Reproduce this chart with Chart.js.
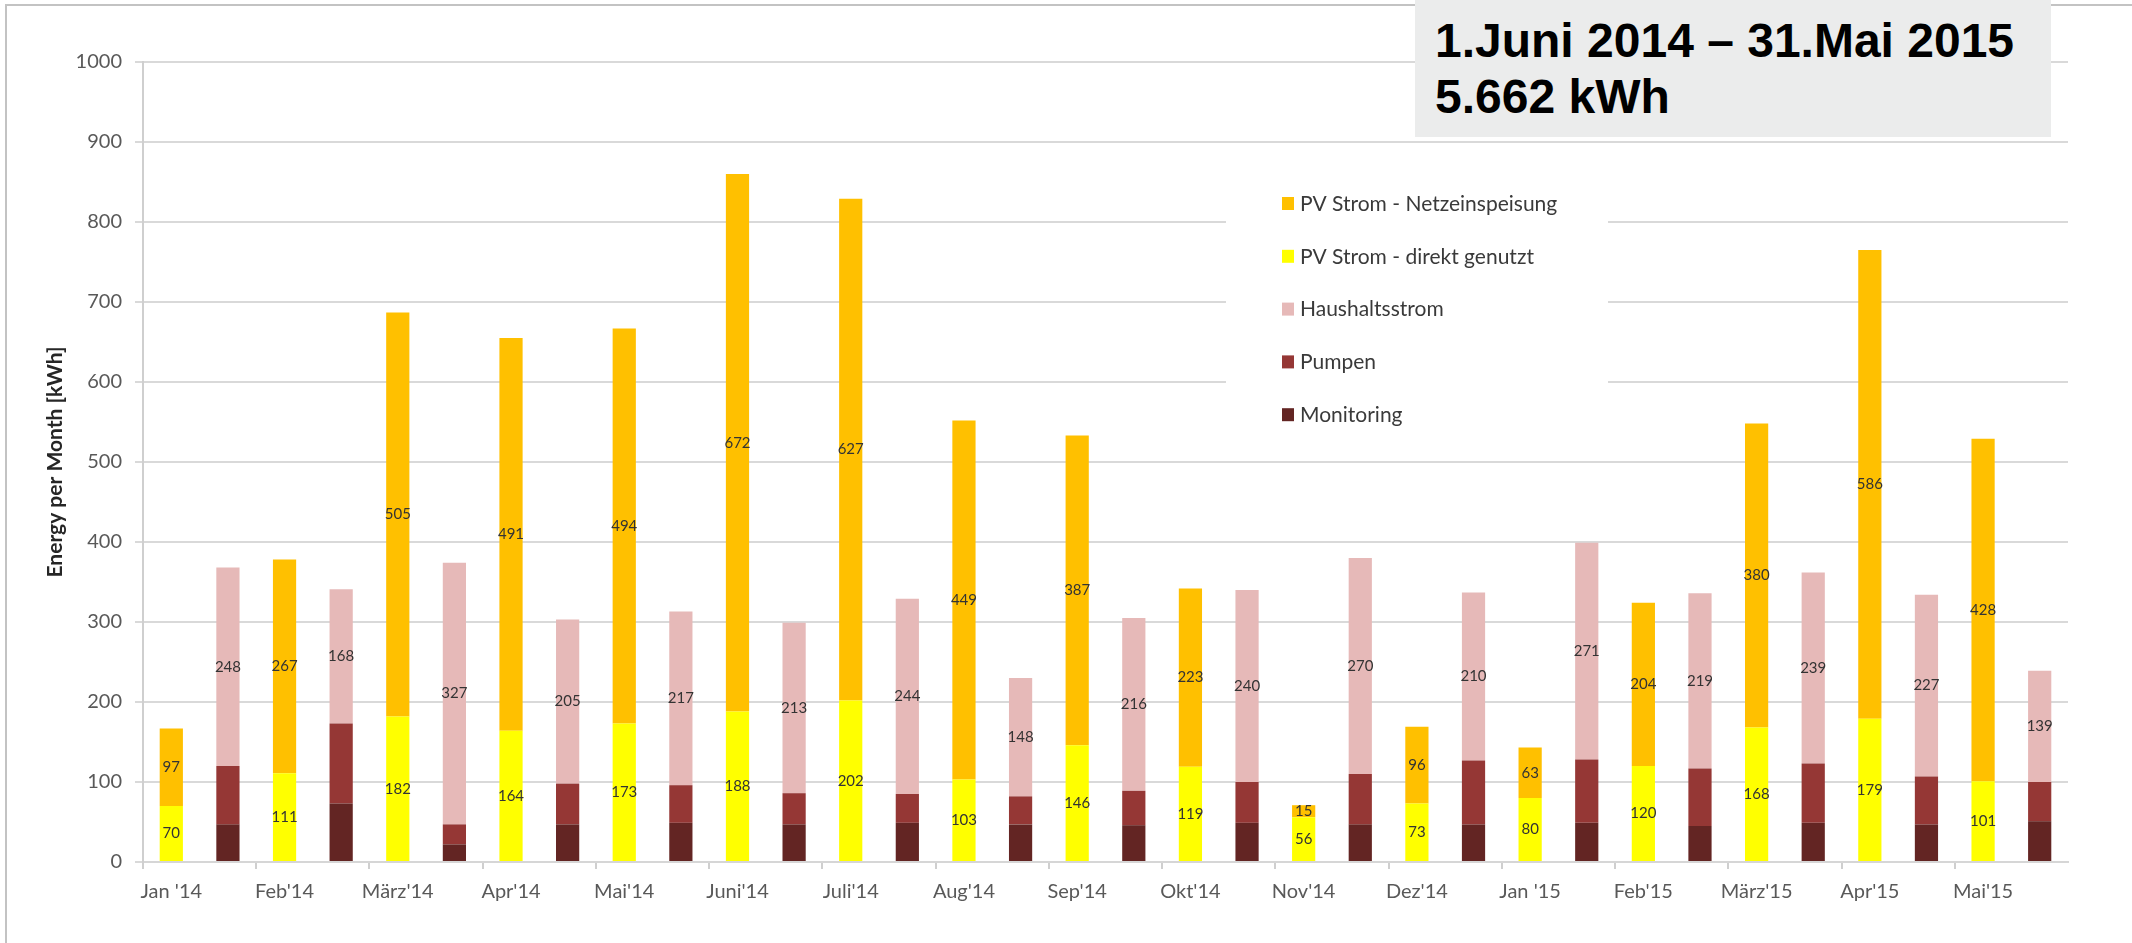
<!DOCTYPE html>
<html>
<head>
<meta charset="utf-8">
<script src="https://cdn.jsdelivr.net/npm/chart.js@4.4.1/dist/chart.umd.min.js"></script>
<style>
  body { margin: 0; background: #fff; }
  #wrap { position: relative; width: 2132px; height: 943px; overflow: hidden; }
  #frame { position: absolute; left: 5px; top: 4px; right: -10px; bottom: -10px;
           border-left: 2px solid #c3c3c3; border-top: 2px solid #c3c3c3; }
  #chartBox { position: absolute; left: 0; top: 0; width: 2132px; height: 943px; }
  #titleBox { position: absolute; left: 1415px; top: 0; width: 636px; height: 137px;
              background: #ebecec; font-family: "Liberation Sans", Arial, sans-serif;
              font-weight: bold; font-size: 48px; line-height: 56px; color: #000; }
  #titleBox div { position: absolute; left: 20px; white-space: nowrap; }
</style>
</head>
<body>
<div id="wrap">
  <div id="frame"></div>
  <div id="chartBox"><canvas id="energyChart"></canvas></div>
  <div id="titleBox">
    <div style="top: 13px;">1.Juni 2014 – 31.Mai 2015</div>
    <div style="top: 69px;">5.662 kWh</div>
  </div>
</div>
<script>
// month labels (one PV bar + one consumption bar per month)
const months = ["Jan '14", "Feb'14", "März'14", "Apr'14", "Mai'14", "Juni'14", "Juli'14", "Aug'14",
                "Sep'14", "Okt'14", "Nov'14", "Dez'14", "Jan '15", "Feb'15", "März'15", "Apr'15", "Mai'15"];

// PV production [kWh]
const pvDirekt = [70, 111, 182, 164, 173, 188, 202, 103, 146, 119, 56, 73, 80, 120, 168, 179, 101];
const pvNetz   = [97, 267, 505, 491, 494, 672, 627, 449, 387, 223, 15, 96, 63, 204, 380, 586, 428];

// consumption [kWh]
const monitoring = [47, 73, 22, 47, 49, 47, 49, 47, 46, 49, 47, 47, 49, 45, 49, 47, 51];
const pumpen     = [73, 100, 25, 51, 47, 39, 36, 35, 43, 51, 63, 80, 79, 72, 74, 60, 49];
const haushalt   = [248, 168, 327, 205, 217, 213, 244, 148, 216, 240, 270, 210, 271, 219, 239, 227, 139];

const yTicks = [0, 100, 200, 300, 400, 500, 600, 700, 800, 900, 1000];

// two categories per month: PV bar first, consumption bar second
const labels = months.flatMap(m => [m, '']);
const pvSlot = arr => arr.flatMap(v => [v, null]);
const useSlot = arr => arr.flatMap(v => [null, v]);

const FONT = 'Lato, "Open Sans", sans-serif';

const valueLabels = {
    id: 'valueLabels',
    afterDatasetsDraw(chart) {
        const ctx = chart.ctx;
        ctx.save();
        ctx.font = '15px ' + FONT;
        ctx.fillStyle = '#333333';
        ctx.textAlign = 'center';
        ctx.textBaseline = 'middle';
        chart.data.datasets.forEach((ds, i) => {
            if (!ds.showValues) return;
            chart.getDatasetMeta(i).data.forEach((el, j) => {
                const v = ds.data[j];
                if (v === null || v === undefined) return;
                ctx.fillText(String(v), el.x, (el.y + el.base) / 2);
            });
        });
        ctx.restore();
    }
};

const boxLegend = {
    id: 'boxLegend',
    afterDraw(chart) {
        const ctx = chart.ctx;
        const order = [4, 3, 2, 1, 0];
        ctx.save();
        ctx.fillStyle = '#ffffff';
        ctx.fillRect(1226, 160, 382, 280);
        ctx.font = '21px ' + FONT;
        ctx.textBaseline = 'middle';
        ctx.textAlign = 'left';
        order.forEach((i, row) => {
            const ds = chart.data.datasets[i];
            const y = 203 + row * 52.8;
            ctx.fillStyle = ds.backgroundColor;
            ctx.fillRect(1282, y - 6, 12, 13);
            ctx.fillStyle = '#3a3a3a';
            ctx.fillText(ds.label, 1300, y + 1);
        });
        ctx.restore();
    }
};

new Chart(document.getElementById('energyChart'), {
    type: 'bar',
    data: {
        labels: labels,
        datasets: [
            { label: 'Monitoring', data: useSlot(monitoring), backgroundColor: '#632523', showValues: false },
            { label: 'Pumpen', data: useSlot(pumpen), backgroundColor: '#953735', showValues: false },
            { label: 'Haushaltsstrom', data: useSlot(haushalt), backgroundColor: '#e6b9b8', showValues: true },
            { label: 'PV Strom - direkt genutzt', data: pvSlot(pvDirekt), backgroundColor: '#ffff00', showValues: true },
            { label: 'PV Strom - Netzeinspeisung', data: pvSlot(pvNetz), backgroundColor: '#ffc000', showValues: true }
        ]
    },
    options: {
        responsive: true,
        maintainAspectRatio: false,
        animation: false,
        layout: { padding: { left: 0, top: 62, right: 64, bottom: 0 } },
        datasets: { bar: { categoryPercentage: 1, barPercentage: 0.41 } },
        plugins: {
            legend: { display: false },
            tooltip: { enabled: false }
        },
        scales: {
            x: {
                stacked: true,
                grid: {
                    offset: true,
                    drawOnChartArea: false,
                    tickLength: 7,
                    lineWidth: 2,
                    color: ctx => (ctx.index % 2 === 0 ? '#cfcfcf' : 'rgba(0,0,0,0)')
                },
                border: { color: '#d6d6d6', width: 2 },
                ticks: {
                    autoSkip: false,
                    maxRotation: 0,
                    padding: 11,
                    color: '#595959',
                    font: { family: FONT, size: 20 }
                },
                afterFit: scale => { scale.height = 81; }
            },
            y: {
                stacked: true,
                min: 0,
                max: 1000,
                afterBuildTicks: scale => { scale.ticks = yTicks.map(v => ({ value: v })); },
                grid: { color: '#d9d9d9', lineWidth: 2, tickLength: 8 },
                border: { color: '#cfcfcf', width: 2 },
                ticks: {
                    padding: 13,
                    color: '#595959',
                    font: { family: FONT, size: 20 },
                    callback: v => String(v)
                },
                title: {
                    display: true,
                    text: 'Energy per Month [kWh]',
                    color: '#262626',
                    font: { family: FONT, size: 21, weight: 'bold' },
                    padding: { top: 43, bottom: 0 }
                },
                afterFit: scale => { scale.width = 143; }
            }
        }
    },
    plugins: [valueLabels, boxLegend]
});
</script>
</body>
</html>
